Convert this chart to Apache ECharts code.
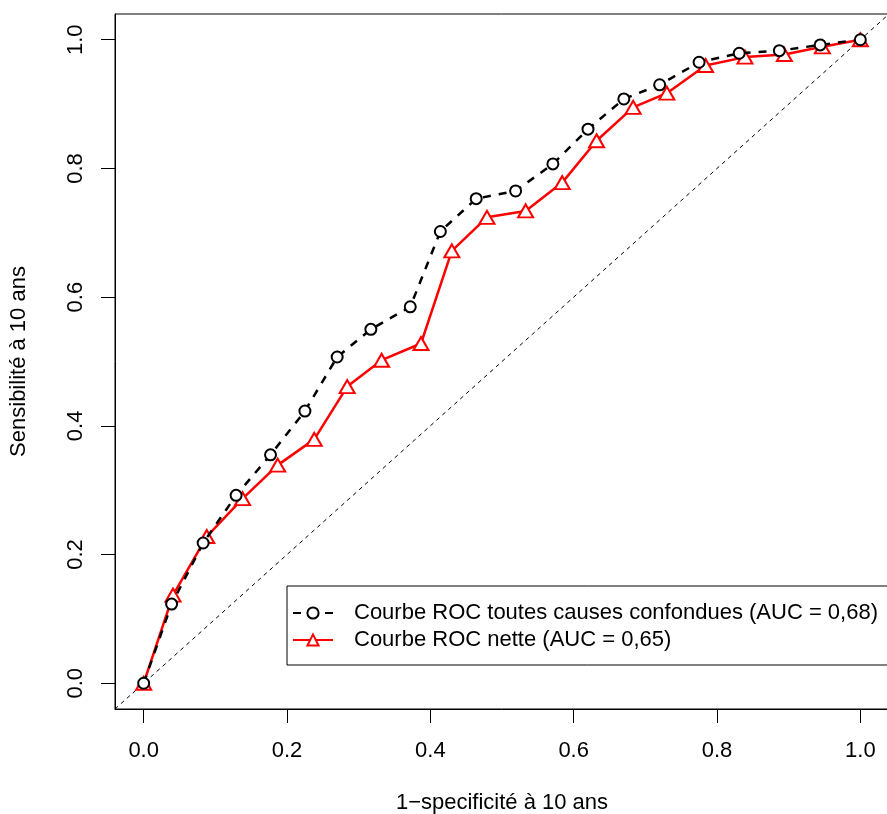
<!DOCTYPE html>
<html>
<head>
<meta charset="utf-8">
<script src="https://cdn.jsdelivr.net/npm/echarts@6/dist/echarts.min.js"></script>
<style>
  html, body { margin: 0; padding: 0; background: #fff; }
  #roc_chart { width: 887px; height: 814px; }
</style>
</head>
<body>
<div id="roc_chart"></div>
<script>
// 1 - specificity / sensitivity
var fprTotal = [0, 0.039, 0.083, 0.129, 0.177, 0.225, 0.270, 0.317, 0.372, 0.414, 0.464,
    0.519, 0.571, 0.620, 0.670, 0.720, 0.775, 0.831, 0.887, 0.944, 1];
var sensTotal = [0, 0.123, 0.218, 0.292, 0.355, 0.423, 0.507, 0.550, 0.585, 0.702, 0.753,
    0.765, 0.807, 0.861, 0.908, 0.930, 0.965, 0.979, 0.983, 0.992, 1];
var fprNet = [0, 0.041, 0.088, 0.138, 0.187, 0.238, 0.284, 0.332, 0.387, 0.430, 0.479,
    0.533, 0.584, 0.632, 0.683, 0.730, 0.784, 0.839, 0.894, 0.947, 1];
var sensNet = [0, 0.137, 0.228, 0.287, 0.339, 0.379, 0.461, 0.502, 0.528, 0.672, 0.724,
    0.734, 0.778, 0.843, 0.895, 0.917, 0.960, 0.973, 0.977, 0.989, 1];
var diagonal = [[-0.04, -0.04], [1.04, 1.04]];
var tickValues = [0, 0.2, 0.4, 0.6, 0.8, 1.0];

var nameTotal = 'Courbe ROC toutes causes confondues (AUC = 0,68)';
var nameNet = 'Courbe ROC nette (AUC = 0,65)';

function pairs(xs, ys) {
    var list = [];
    for (var i = 0; i < xs.length; i++) {
        list.push([xs[i], ys[i]]);
    }
    return list;
}

var font = 'Liberation Sans';
var fontSize = 22;
var rocChart = echarts.init(document.getElementById('roc_chart'));

var rocOptions = {
    animation: false,
    backgroundColor: '#fff',
    textStyle: { fontFamily: font },
    grid: {
        left: 115,
        top: 14,
        width: 774,
        height: 695,
        outerBoundsMode: 'none',
        containLabel: false,
        show: true,
        borderColor: '#000',
        borderWidth: 1
    },
    legend: {
        left: 287,
        top: 586,
        orient: 'vertical',
        backgroundColor: '#fff',
        borderColor: '#000',
        borderWidth: 1,
        borderRadius: 0,
        padding: [16, 40, 14, 5],
        itemGap: 5,
        itemWidth: 40,
        itemHeight: 14,
        textStyle: { fontFamily: font, fontSize: fontSize, color: '#000', padding: [0, 0, 0, 16] },
        data: [nameTotal, nameNet]
    },
    xAxis: {
        type: 'value',
        min: -0.04,
        max: 1.04,
        name: '1\u2212specificité à 10 ans',
        nameLocation: 'middle',
        nameGap: 83,
        nameTextStyle: { fontFamily: font, fontSize: fontSize, color: '#000' },
        axisLine: { show: true, onZero: false, lineStyle: { color: '#000', width: 1 } },
        axisTick: { show: true, length: 14, customValues: tickValues, lineStyle: { color: '#000' } },
        axisLabel: {
            customValues: tickValues,
            margin: 31,
            fontFamily: font,
            fontSize: fontSize,
            color: '#000',
            formatter: function (v) { return v.toFixed(1); }
        },
        splitLine: { show: false }
    },
    yAxis: {
        type: 'value',
        min: -0.04,
        max: 1.04,
        name: 'Sensibilité à 10 ans',
        nameLocation: 'middle',
        nameRotate: 90,
        nameGap: 85,
        nameTextStyle: { fontFamily: font, fontSize: fontSize, color: '#000' },
        axisLine: { show: true, onZero: false, lineStyle: { color: '#000', width: 1 } },
        axisTick: { show: true, length: 14, customValues: tickValues, lineStyle: { color: '#000' } },
        axisLabel: {
            customValues: tickValues,
            rotate: 90,
            margin: 28,
            fontFamily: font,
            fontSize: fontSize,
            color: '#000',
            formatter: function (v) { return v.toFixed(1); }
        },
        splitLine: { show: false }
    },
    series: [
        {
            name: 'diagonal',
            type: 'line',
            data: diagonal,
            symbol: 'none',
            silent: true,
            clip: true,
            lineStyle: { color: '#000', width: 1, type: [4, 4] },
            z: 1
        },
        {
            name: nameTotal,
            type: 'line',
            data: pairs(fprTotal, sensTotal),
            symbol: 'emptyCircle',
            symbolSize: 11,
            itemStyle: { color: '#000', borderWidth: 2 },
            lineStyle: { color: '#000', width: 2.5, type: [8, 8] },
            z: 3
        },
        {
            name: nameNet,
            type: 'line',
            data: pairs(fprNet, sensNet),
            symbol: 'emptyTriangle',
            symbolSize: [15, 13],
            itemStyle: { color: '#ff0000', borderWidth: 2 },
            lineStyle: { color: '#ff0000', width: 2.5 },
            z: 2
        }
    ]
};
rocChart.setOption(rocOptions);
</script>
</body>
</html>
